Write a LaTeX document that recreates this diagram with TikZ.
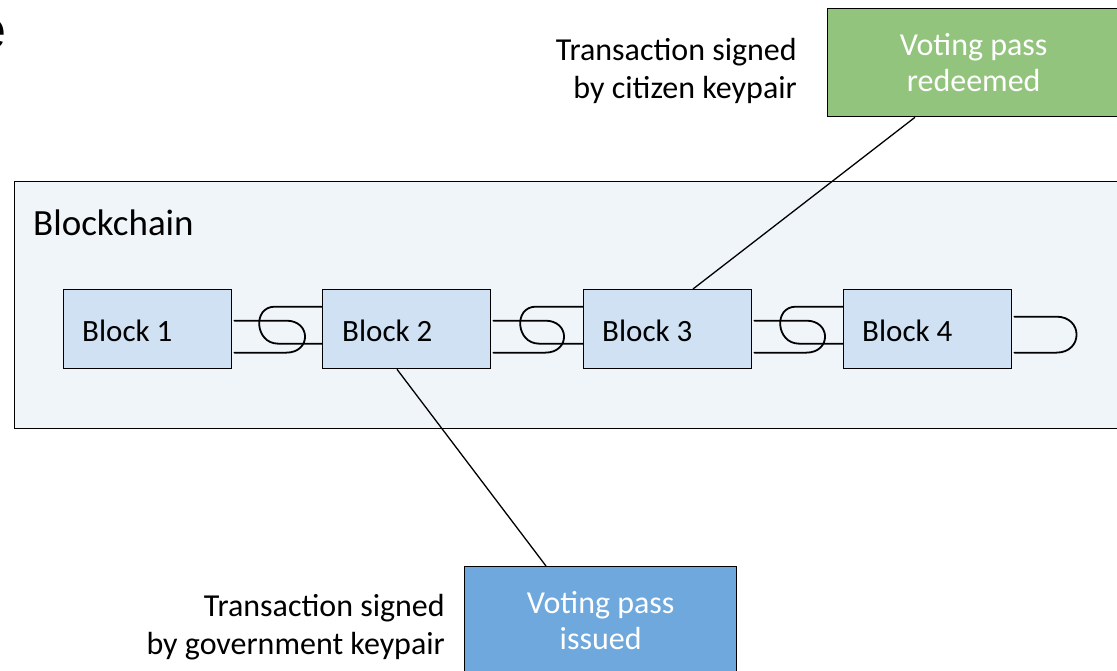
\documentclass[tikz,border=0pt]{standalone}
\usepackage{fontspec}
\setmainfont{Carlito}
\newfontfamily\arialf{Liberation Sans}
\usetikzlibrary{calc}
\definecolor{chainbg}{HTML}{F0F5FA}
\definecolor{blockfill}{HTML}{CFE1F3}
\definecolor{greenfill}{HTML}{93C47D}
\definecolor{bluefill}{HTML}{6FA8DC}
\tikzset{
  frame/.style={draw=black, line width=1.3pt},
  blockbox/.style={frame, fill=blockfill, minimum width=168pt, minimum height=79pt, inner sep=0pt},
  passbox/.style={frame, minimum width=272pt, minimum height=108pt, inner sep=0pt, text=white, align=center,
    font=\fontsize{32}{36.5}\selectfont},
  chainlink/.style={draw=black, line width=1.8pt, line cap=round, line join=round},
  conn/.style={draw=black, line width=1.3pt},
  note/.style={align=right, font=\fontsize{32}{38}\selectfont, inner sep=0pt},
  blocklabel/.style={font=\fontsize{31}{36}\selectfont, inner sep=0pt, anchor=west}
}
\begin{document}
\begin{tikzpicture}[x=1pt,y=-1pt]
\useasboundingbox[fill=white] (0,0) rectangle (1117,671);
% partial title letter
\node[anchor=base east, inner sep=0pt, font=\arialf\fontsize{54}{60}\selectfont] (title) at (7,49) {e};
% blockchain container
\node[frame, fill=chainbg, minimum width=1111pt, minimum height=247pt, inner sep=0pt, anchor=north west] (bc) at (14,181) {};
\node[anchor=west, inner sep=0pt, font=\fontsize{37}{42}\selectfont] (bclabel) at (33,223) {Blockchain};
% blocks
\node[blockbox, anchor=north west] (b1) at (63,289) {};
\node[blockbox, anchor=north west] (b2) at (322,289) {};
\node[blockbox, anchor=north west] (b3) at (583,289) {};
\node[blockbox, anchor=north west] (b4) at (843,289) {};
\node[blocklabel] (l1) at (82,331) {Block 1};
\node[blocklabel] (l2) at (342,331) {Block 2};
\node[blocklabel] (l3) at (602,331) {Block 3};
\node[blocklabel] (l4) at (862,331) {Block 4};
% chain links
\foreach \a/\b in {b1/b2, b2/b3, b3/b4}{
  \begin{scope}[shift={(\a.east)}]
    \draw[chainlink] (2,-8.5) -- (54,-8.5) .. controls (79,-8.5) and (79,23.5) .. (54,23.5) -- (2,23.5);
  \end{scope}
  \begin{scope}[shift={(\b.west)}]
    \draw[chainlink] (0,-22.5) -- (-47,-22.5) .. controls (-70,-22.5) and (-67,14.5) .. (-44,14.5) -- (0,14.5);
  \end{scope}
}
\begin{scope}[shift={(b4.east)}]
  \draw[chainlink] (2,-12.5) -- (44,-12.5) .. controls (71,-12.5) and (71,23.5) .. (44,23.5) -- (2,23.5);
\end{scope}
% pass boxes
\node[passbox, fill=greenfill, minimum width=292pt, anchor=north west] (redeem) at (827,8) {Voting pass\\redeemed};
\node[passbox, fill=bluefill, anchor=north west] (issue) at (464,566) {Voting pass\\issued};
% connectors
\draw[conn] ($(redeem.south west)+(88,0)$) -- ($(b3.north west)+(110,0)$);
\draw[conn] ($(b2.south west)+(75,0)$) -- ($(issue.north west)+(82,0)$);
% notes
\node[note, anchor=east] (n1) at (797,71) {Transaction signed\\by citizen keypair};
\node[note, anchor=east] (n2) at (445,627) {Transaction signed\\by government keypair};
\end{tikzpicture}
\end{document}
